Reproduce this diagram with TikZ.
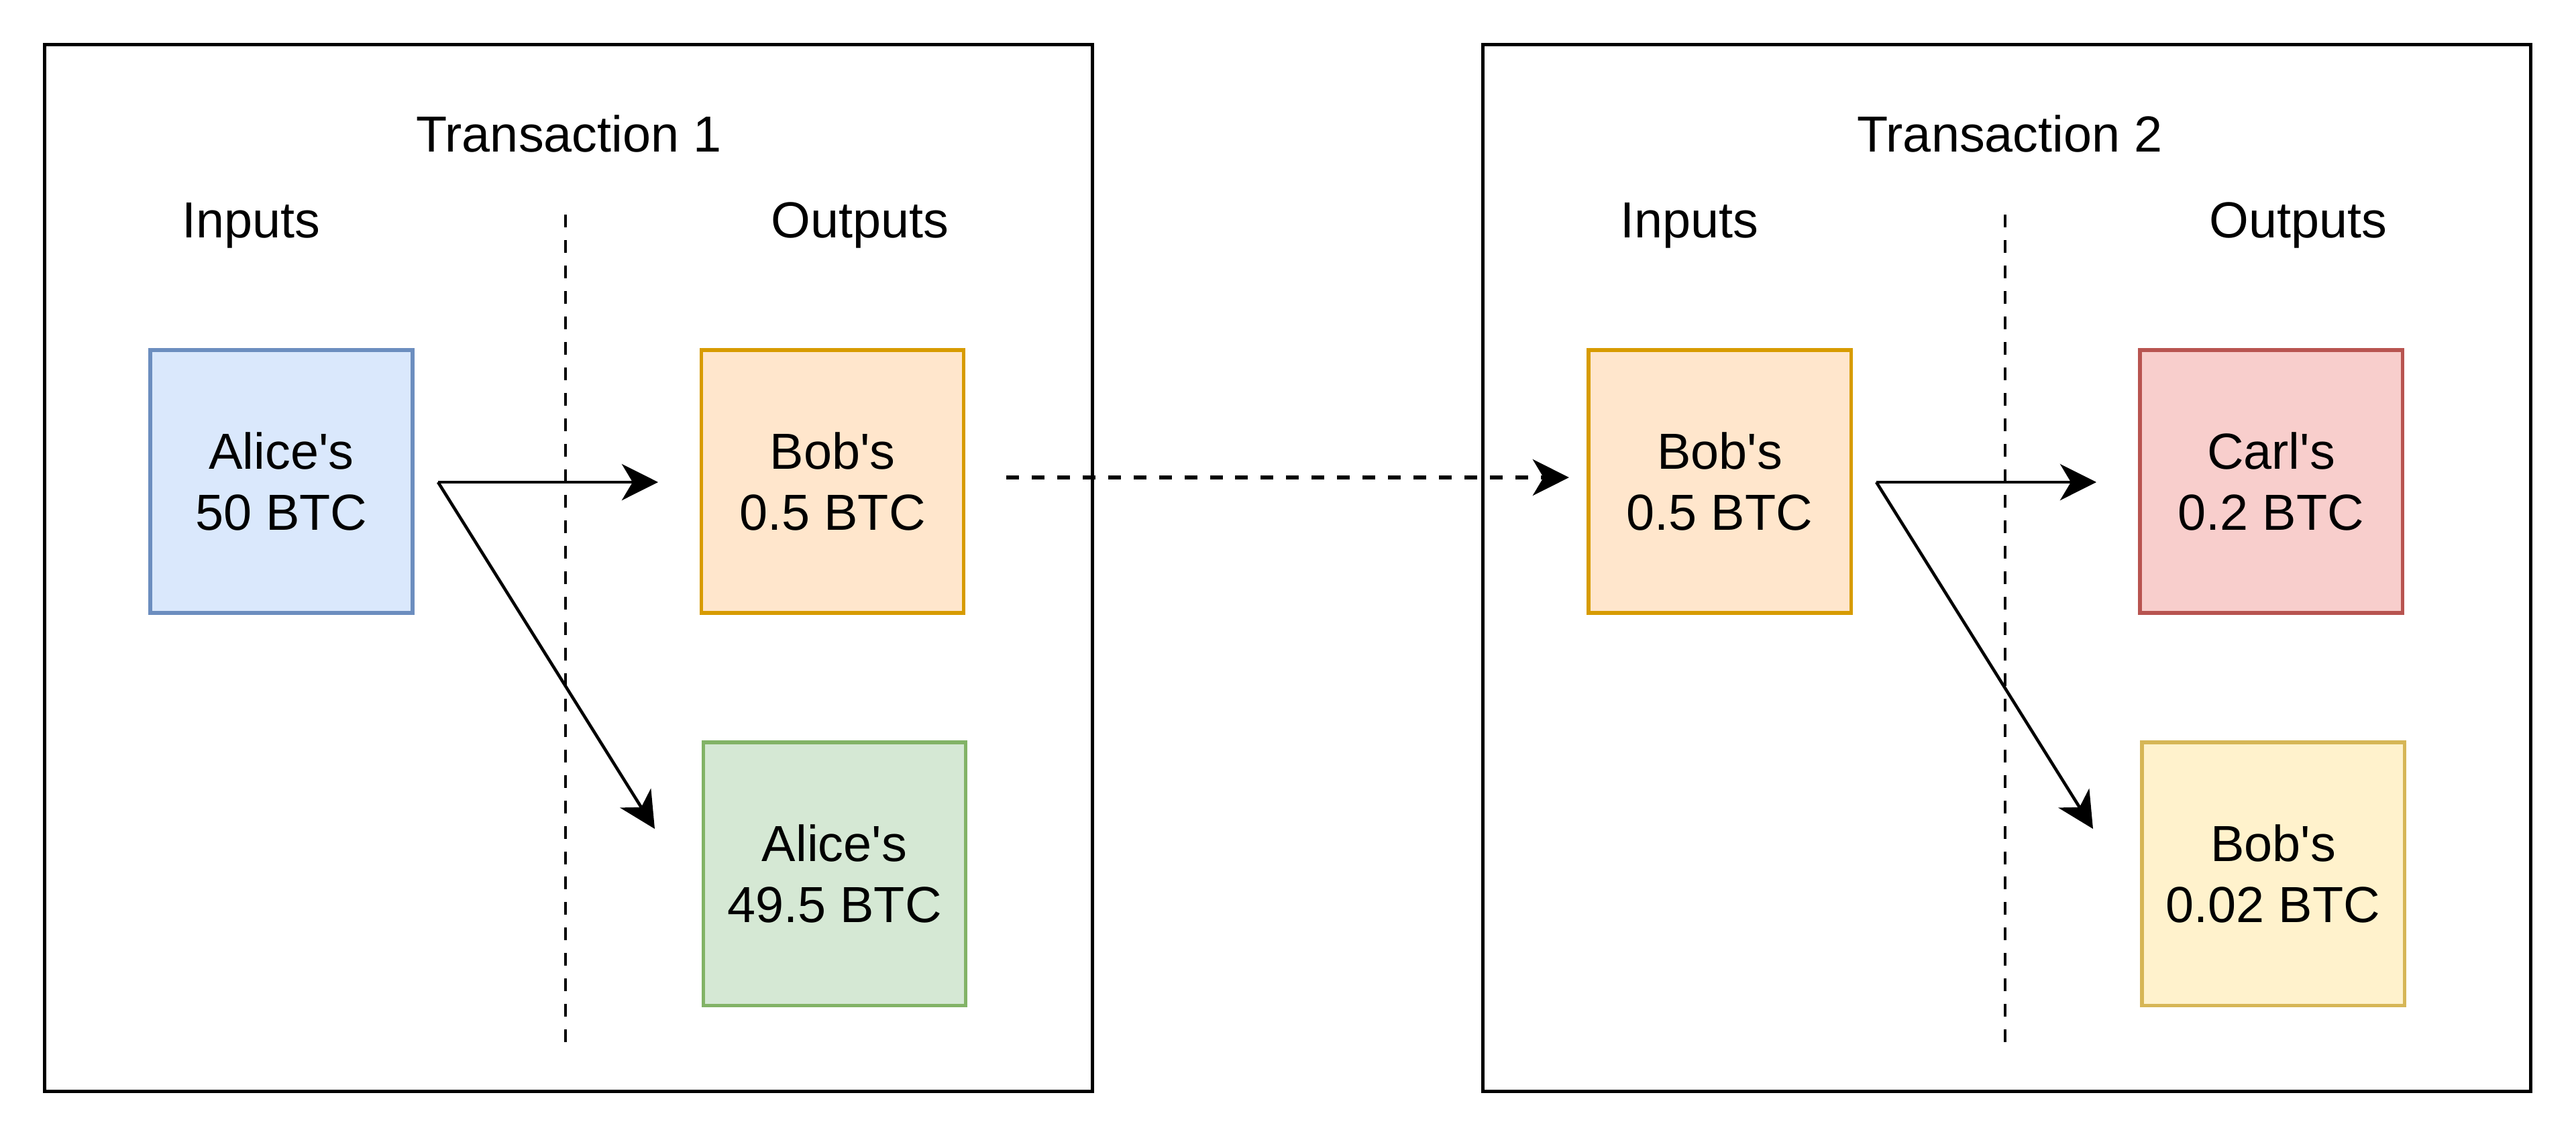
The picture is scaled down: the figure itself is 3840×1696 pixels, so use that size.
\documentclass[tikz,border=0pt]{standalone}
\usepackage{fontspec}
\newfontfamily\arialfont{Liberation Sans}
\usetikzlibrary{arrows.meta}
\definecolor{bluefill}{HTML}{DAE8FC}\definecolor{bluedraw}{HTML}{6C8EBF}
\definecolor{orangefill}{HTML}{FFE6CC}\definecolor{orangedraw}{HTML}{D79B00}
\definecolor{greenfill}{HTML}{D5E8D4}\definecolor{greendraw}{HTML}{82B366}
\definecolor{redfill}{HTML}{F8CECC}\definecolor{reddraw}{HTML}{B85450}
\definecolor{yellowfill}{HTML}{FFF2CC}\definecolor{yellowdraw}{HTML}{D6B656}
\begin{document}
\begin{tikzpicture}[x=0.01cm,y=-0.01cm,
  txt/.style={font=\arialfont\fontsize{21.5}{26}\selectfont},
  frame/.style={draw=black,line width=1.6pt,minimum width=15.61cm,minimum height=15.60cm,inner sep=0pt,outer sep=0pt},
  coin/.style={txt,rectangle,minimum width=3.91cm,minimum height=3.92cm,inner sep=0pt,outer sep=0pt,align=center,line width=1.5pt},
  lbl/.style={txt,anchor=base,inner sep=0pt},
  divider/.style={line width=1pt,dash pattern=on 5.4pt off 5.4pt},
  flow/.style={-{Stealth[length=5.4mm,width=5.4mm,inset=1.6mm]},line width=1.3pt},
  spend/.style={flow,line width=1.6pt,dash pattern=on 5.4pt off 5.4pt}]
\useasboundingbox (0,0) rectangle (3840,1696);

% transaction frames
\node[frame] (tx1) at (847.5,847) {};
\node[frame] (tx2) at (2991.5,847) {};

% titles and column labels
\node[lbl] (t1) at (848,226) {Transaction 1};
\node[lbl] (in1) at (374,354) {Inputs};
\node[lbl] (out1) at (1282,354) {Outputs};
\node[lbl] (t2) at (2996,226) {Transaction 2};
\node[lbl] (in2) at (2518,354) {Inputs};
\node[lbl] (out2) at (3426,354) {Outputs};

% dividers
\draw[divider] (843,320) -- (843,1562);
\draw[divider] (2989,320) -- (2989,1562);

% coins
\node[coin,fill=bluefill,draw=bluedraw] (alice50) at (419.5,718) {Alice's\\50 BTC};
\node[coin,fill=orangefill,draw=orangedraw] (bob1) at (1241,718) {Bob's\\0.5 BTC};
\node[coin,fill=greenfill,draw=greendraw] (alice495) at (1244,1303) {Alice's\\49.5 BTC};
\node[coin,fill=orangefill,draw=orangedraw] (bob2) at (2563.5,718) {Bob's\\0.5 BTC};
\node[coin,fill=redfill,draw=reddraw] (carl) at (3385.5,718) {Carl's\\0.2 BTC};
\node[coin,fill=yellowfill,draw=yellowdraw] (bob3) at (3388.5,1303) {Bob's\\0.02 BTC};

% connector end points
\coordinate (s1) at (653,719);
\coordinate (e1a) at (981,719);
\coordinate (e1b) at (976,1236);
\coordinate (s2) at (2797,719);
\coordinate (e2a) at (3125,719);
\coordinate (e2b) at (3120,1236);

\draw[flow] (s1) -- (e1a);
\draw[flow] (s1) -- (e1b);
\draw[flow] (s2) -- (e2a);
\draw[flow] (s2) -- (e2b);

% spending link
\draw[spend,shorten <=0.63cm,shorten >=0.29cm] ([yshift=0.06cm]bob1.east) -- ([yshift=0.06cm]bob2.west);
\end{tikzpicture}
\end{document}
